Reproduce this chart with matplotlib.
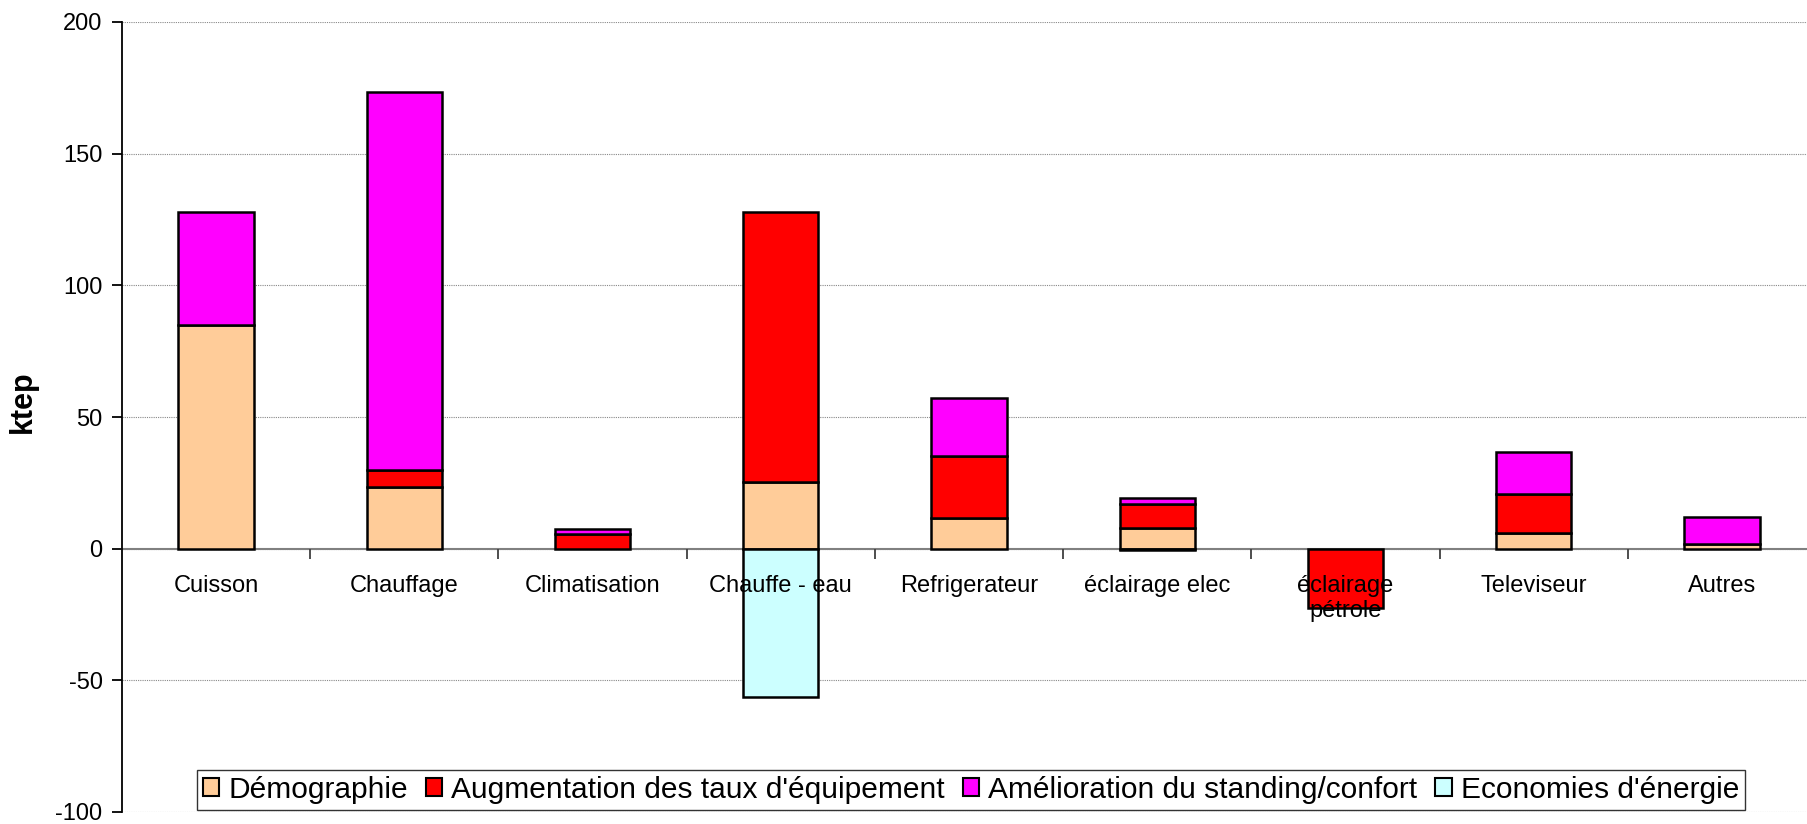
import numpy as np
import matplotlib
matplotlib.use("Agg")
import matplotlib.pyplot as plt
from matplotlib.ticker import FixedLocator

plt.rcParams['font.family'] = ['Liberation Sans', 'DejaVu Sans']

# Usages of household energy
categories = ["Cuisson", "Chauffage", "Climatisation", "Chauffe - eau",
              "Refrigerateur", "éclairage elec", "éclairage\npétrole",
              "Televiseur", "Autres"]

# Contributions to consumption change (ktep)
demographie = [85.0, 23.5, 0.0, 25.5, 11.7, 7.9, 0.0, 5.8, 1.9]
augmentation = [0.0, 6.5, 5.5, 102.5, 23.3, 9.1, -22.5, 14.9, 0.0]
amelioration = [43.0, 143.3, 2.1, 0.0, 22.3, 2.2, 0.0, 15.9, 10.2]
economies = [0.0, 0.0, 0.0, -56.2, 0.0, -0.5, 0.0, 0.0, 0.0]

series_names = ["Démographie", "Augmentation des taux d'équipement",
                "Amélioration du standing/confort", "Economies d'énergie"]
series_values = [demographie, augmentation, amelioration, economies]
series_colors = ["#FFCC99", "#FF0000", "#FF00FF", "#CCFFFF"]

y_ticks = [-100, -50, 0, 50, 100, 150, 200]

W, H = 1808, 824
fig = plt.figure(figsize=(W / 100, H / 100), dpi=100)
ax_left, ax_right, ax_top, ax_bottom = 122, 1816, 22, 812
ax = fig.add_axes([ax_left / W, 1 - ax_bottom / H,
                   (ax_right - ax_left) / W, (ax_bottom - ax_top) / H])

x = np.arange(len(categories))
pos_base = np.zeros(len(categories))
neg_base = np.zeros(len(categories))
handles = []
for name, vals, col in zip(series_names, series_values, series_colors):
    v = np.asarray(vals, dtype=float)
    bottoms = np.where(v >= 0, pos_base, neg_base)
    mask = v != 0
    ax.bar(x[mask], v[mask], bottom=bottoms[mask], width=0.4, color=col,
           edgecolor="black", linewidth=1.8, zorder=2)
    pos_base += np.where(v > 0, v, 0)
    neg_base += np.where(v < 0, v, 0)
    handles.append(plt.Rectangle((0, 0), 1, 1, facecolor=col,
                                 edgecolor="black", linewidth=1.5))

ax.set_xlim(-0.5, len(categories) - 0.5)
ax.set_ylim(-100, 200)
ax.set_yticks(y_ticks)
ax.set_yticklabels([str(t) for t in y_ticks], fontsize=17)
ax.yaxis.grid(True, linestyle=(0, (1, 1)), color="#888888", linewidth=0.8)
ax.yaxis.set_zorder(0.5)
ax.xaxis.set_zorder(3)

# Category axis sits on the zero line
ax.spines['bottom'].set_position(('data', 0))
ax.spines['bottom'].set_color("#808080")
ax.spines['bottom'].set_linewidth(1.5)
ax.spines['bottom'].set_zorder(1.5)
ax.spines['top'].set_visible(False)
ax.spines['right'].set_visible(False)
ax.spines['left'].set_linewidth(1.3)
ax.set_xticks(x)
ax.set_xticklabels(categories, fontsize=17, linespacing=1.15)
ax.tick_params(axis='x', which='major', length=0, pad=19)
ax.xaxis.set_minor_locator(FixedLocator(x[:-1] + 0.5))
ax.tick_params(axis='x', which='minor', length=7, width=1.3, color="#404040", direction='out')
ax.tick_params(axis='y', length=7, width=1.3, pad=7)

ax.set_ylabel("ktep", fontsize=22, fontweight='bold')
ax.yaxis.set_label_coords((38 - ax_left) / (ax_right - ax_left), 0.52)

leg = fig.legend(handles, series_names, loc='center', ncol=4,
                 bbox_to_anchor=(971 / W, 1 - 790 / H),
                 fontsize=21.5, frameon=True, fancybox=False, edgecolor="black",
                 handlelength=0.55, handleheight=0.55, handletextpad=0.3,
                 columnspacing=0.6, borderpad=0.2, borderaxespad=0)
leg.get_frame().set_linewidth(1.0)

fig.savefig("out.png", dpi=100)
